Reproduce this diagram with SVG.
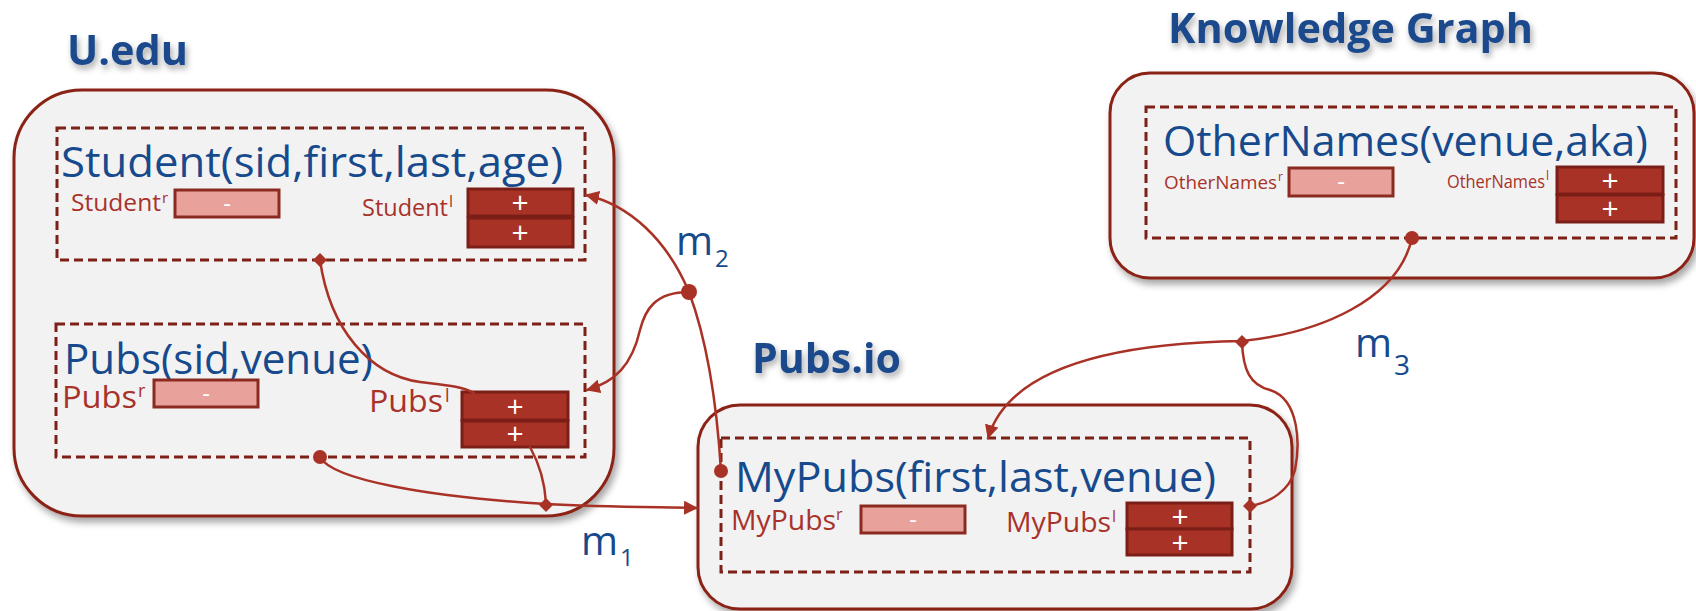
<svg xmlns="http://www.w3.org/2000/svg" width="1696" height="611" viewBox="0 0 1696 611">
  <defs>
    <style>
      .title { font-family: "Open Sans", "Liberation Sans", sans-serif; font-weight: bold; font-size: 42px; fill: #1a4a8c; }
      .rel { font-family: "Open Sans", "Liberation Sans", sans-serif; font-size: 42px; fill: #174a8c; }
      .lbl { font-family: "Open Sans", "Liberation Sans", sans-serif; fill: #a8322a; }
      .mlab { font-family: "Open Sans", "Liberation Sans", sans-serif; fill: #174a8c; }
      .outer { fill: #f2f2f2; stroke: #8b2317; stroke-width: 3; }
      .dash { fill: none; stroke: #7d2018; stroke-width: 3; stroke-dasharray: 9 5; }
      .minus { fill: #e8a19b; stroke: #8b2a20; stroke-width: 3; }
      .plus { fill: #a93226; stroke: #7a1e17; stroke-width: 3; }
      .sign { font-family: "Open Sans", "Liberation Sans", sans-serif; fill: #ffffff; text-anchor: middle; }
      .conn { fill: none; stroke: #a93226; stroke-width: 2.5; stroke-linecap: round; }
      .dot { fill: #a93226; }
    </style>
    <filter id="boxShadow" x="-5%" y="-5%" width="115%" height="120%">
      <feDropShadow dx="3" dy="5" stdDeviation="3.5" flood-color="#000" flood-opacity="0.35"/>
    </filter>
    <filter id="textShadow" x="-10%" y="-30%" width="125%" height="170%">
      <feDropShadow dx="2" dy="4" stdDeviation="3" flood-color="#000" flood-opacity="0.35"/>
    </filter>
    <marker id="arrow" viewBox="0 0 14 14" refX="13" refY="7" markerWidth="14" markerHeight="14" markerUnits="userSpaceOnUse" orient="auto">
      <path d="M0,0 L14,7 L0,14 Z" fill="#a93226"/>
    </marker>
  </defs>

  <!-- Titles -->
  <text class="title" x="67" y="65" textLength="121" lengthAdjust="spacingAndGlyphs" filter="url(#textShadow)">U.edu</text>
  <text class="title" x="752" y="373" textLength="149" lengthAdjust="spacingAndGlyphs" filter="url(#textShadow)">Pubs.io</text>
  <text class="title" x="1168" y="43" textLength="365" lengthAdjust="spacingAndGlyphs" filter="url(#textShadow)">Knowledge Graph</text>

  <!-- U.edu source -->
  <g id="uedu">
    <rect class="outer" x="14" y="90" width="600" height="426" rx="68" ry="68" filter="url(#boxShadow)"/>
  </g>

  <g id="student">
    <rect class="dash" x="57" y="128" width="528" height="132"/>
    <text class="rel" x="61" y="177" textLength="502" lengthAdjust="spacingAndGlyphs">Student(sid,first,last,age)</text>
    <text class="lbl" x="71" y="211" font-size="24" textLength="90" lengthAdjust="spacingAndGlyphs">Student</text>
    <text class="lbl" x="162" y="203" font-size="15">r</text>
    <rect class="minus" x="175" y="190" width="104" height="27"/>
    <text class="sign" x="227" y="212" font-size="24">-</text>
    <text class="lbl" x="362" y="216" font-size="24" textLength="86" lengthAdjust="spacingAndGlyphs">Student</text>
    <text class="lbl" x="449" y="207" font-size="16">l</text>
    <rect class="plus" x="468" y="189" width="105" height="27"/>
    <text class="sign" x="520" y="213" font-size="30">+</text>
    <rect class="plus" x="468" y="218" width="105" height="29"/>
    <text class="sign" x="520" y="243" font-size="30">+</text>
  </g>

  <g id="pubs">
    <rect class="dash" x="56" y="324" width="529" height="133"/>
    <text class="rel" x="64" y="374" textLength="309" lengthAdjust="spacingAndGlyphs">Pubs(sid,venue)</text>
    <text class="lbl" x="62" y="408" font-size="31" textLength="75" lengthAdjust="spacingAndGlyphs">Pubs</text>
    <text class="lbl" x="138" y="397" font-size="18">r</text>
    <rect class="minus" x="154" y="380" width="104" height="27"/>
    <text class="sign" x="206" y="402" font-size="24">-</text>
    <text class="lbl" x="369" y="412" font-size="31" textLength="74" lengthAdjust="spacingAndGlyphs">Pubs</text>
    <text class="lbl" x="445" y="402" font-size="18">l</text>
    <rect class="plus" x="462" y="392" width="106" height="28"/>
    <text class="sign" x="515" y="417" font-size="30">+</text>
    <rect class="plus" x="462" y="421" width="106" height="26"/>
    <text class="sign" x="515" y="444" font-size="30">+</text>
  </g>

  <!-- Pubs.io target -->
  <g id="pubsio">
    <rect class="outer" x="698" y="405" width="594" height="204" rx="42" ry="42" filter="url(#boxShadow)"/>
  </g>

  <g id="mypubs">
    <rect class="dash" x="721" y="438" width="529" height="134"/>
    <text class="rel" x="735" y="492" textLength="481" lengthAdjust="spacingAndGlyphs">MyPubs(first,last,venue)</text>
    <text class="lbl" x="731" y="530" font-size="28" textLength="105" lengthAdjust="spacingAndGlyphs">MyPubs</text>
    <text class="lbl" x="836" y="520" font-size="16">r</text>
    <rect class="minus" x="861" y="506" width="104" height="27"/>
    <text class="sign" x="913" y="528" font-size="24">-</text>
    <text class="lbl" x="1006" y="532" font-size="28" textLength="105" lengthAdjust="spacingAndGlyphs">MyPubs</text>
    <text class="lbl" x="1112" y="522" font-size="16">l</text>
    <rect class="plus" x="1127" y="503" width="105" height="26"/>
    <text class="sign" x="1180" y="527" font-size="30">+</text>
    <rect class="plus" x="1127" y="529" width="105" height="26"/>
    <text class="sign" x="1180" y="553" font-size="30">+</text>
  </g>

  <!-- Knowledge Graph source -->
  <g id="kg">
    <rect class="outer" x="1110" y="73" width="584" height="205" rx="40" ry="40" filter="url(#boxShadow)"/>
  </g>

  <g id="othernames">
    <rect class="dash" x="1146" y="107" width="530" height="131"/>
    <text class="rel" x="1163" y="156" textLength="485" lengthAdjust="spacingAndGlyphs">OtherNames(venue,aka)</text>
    <text class="lbl" x="1164" y="189" font-size="19" textLength="113" lengthAdjust="spacingAndGlyphs">OtherNames</text>
    <text class="lbl" x="1278" y="181" font-size="12">r</text>
    <rect class="minus" x="1289" y="168" width="104" height="28"/>
    <text class="sign" x="1341" y="190" font-size="24">-</text>
    <text class="lbl" x="1447" y="188" font-size="19" textLength="98" lengthAdjust="spacingAndGlyphs">OtherNames</text>
    <text class="lbl" x="1546" y="180" font-size="12">l</text>
    <rect class="plus" x="1557" y="167" width="106" height="27"/>
    <text class="sign" x="1610" y="191" font-size="30">+</text>
    <rect class="plus" x="1557" y="195" width="106" height="27"/>
    <text class="sign" x="1610" y="219" font-size="30">+</text>
  </g>

  <!-- Mappings -->
  <g id="connectors">
    <!-- m1 -->
    <path class="conn" d="M320,260 C330,330 370,375 420,382 C445,385 462,386 474,393"/>
    <path class="conn" d="M320,457 C332,480 430,497 546,504 C600,507 650,507 697,508" marker-end="url(#arrow)"/>
    <path class="conn" d="M530,447 C540,465 545,485 546,503"/>
    <!-- m2 -->
    <path class="conn" d="M721,471 C716,390 705,335 689,292 C667,240 630,205 586,195" marker-end="url(#arrow)"/>
    <path class="conn" d="M689,292 C655,292 645,310 640,330 C632,365 615,382 587,390" marker-end="url(#arrow)"/>
    <!-- m3 -->
    <path class="conn" d="M1412,238 C1398,300 1320,333 1242,341 C1120,343 1010,365 988,438" marker-end="url(#arrow)"/>
    <path class="conn" d="M1242,342 C1243,370 1250,385 1270,390 C1300,400 1300,445 1295,470 C1290,490 1270,503 1250,506"/>

    <!-- joints -->
    <path class="dot" d="M320,253 L327,260 L320,267 L313,260 Z"/>
    <path class="dot" d="M546,498 L553,505 L546,512 L539,505 Z"/>
    <path class="dot" d="M1242,335 L1249,342 L1242,349 L1235,342 Z"/>
    <path class="dot" d="M1250,499 L1257,506 L1250,513 L1243,506 Z"/>
    <circle class="dot" cx="320" cy="457" r="7"/>
    <circle class="dot" cx="689" cy="292" r="8"/>
    <circle class="dot" cx="721" cy="471" r="7"/>
    <circle class="dot" cx="1412" cy="238" r="7"/>

    <!-- labels -->
    <text class="mlab" x="581" y="555" font-size="40">m</text>
    <text class="mlab" x="620" y="566" font-size="24">1</text>
    <text class="mlab" x="676" y="255" font-size="40">m</text>
    <text class="mlab" x="715" y="267" font-size="24">2</text>
    <text class="mlab" x="1355" y="357" font-size="40">m</text>
    <text class="mlab" x="1394" y="375" font-size="28">3</text>
  </g>
</svg>
